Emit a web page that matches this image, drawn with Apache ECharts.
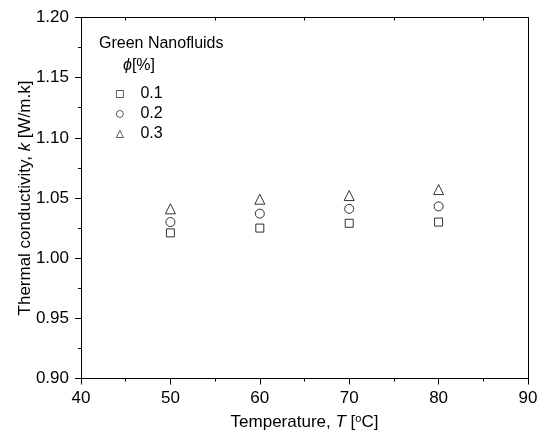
<!DOCTYPE html>
<html>
<head>
<meta charset="utf-8">
<script src="https://cdn.jsdelivr.net/npm/echarts@6/dist/echarts.min.js"></script>
<style>
  html, body { margin: 0; padding: 0; background: #fff; }
  #chart { width: 544px; height: 442px; }
</style>
</head>
<body>
<div id="chart"></div>
<script>
// Thermal conductivity of green nanofluids vs temperature
const temperatures = [50, 60, 70, 80];
const phi01 = [1.021, 1.025, 1.029, 1.030];
const phi02 = [1.030, 1.037, 1.041, 1.043];
const phi03 = [1.041, 1.049, 1.052, 1.057];
const seriesNames = ['0.1', '0.2', '0.3'];
const xTicks = { min: 40, max: 90, step: 10 };
const yTicks = { min: 0.90, max: 1.20, step: 0.05 };

const FONT = 'Liberation Sans, Arial, sans-serif';
const BLACK = '#000';

function pairs(xs, ys) { return xs.map((x, i) => [x, ys[i]]); }

const markerStyle = { color: '#fff', borderColor: BLACK, borderWidth: 1 };

const chart = echarts.init(document.getElementById('chart'), null, { renderer: 'canvas' });

chart.setOption({
  backgroundColor: '#fff',
  animation: false,
  textStyle: { fontFamily: FONT, color: BLACK },
  grid: { left: 81, right: 16, top: 17.5, bottom: 63.5, containLabel: false, outerBoundsMode: 'none' },
  xAxis: [
    {
      type: 'value', position: 'bottom',
      min: xTicks.min, max: xTicks.max, interval: xTicks.step,
      axisLine: { show: true, lineStyle: { color: BLACK, width: 1 } },
      axisTick: { show: true, length: 6, lineStyle: { color: BLACK } },
      minorTick: { show: true, splitNumber: 2, length: 3, lineStyle: { color: BLACK } },
      splitLine: { show: false },
      axisLabel: { fontSize: 17, color: BLACK, fontFamily: FONT, margin: 11 },
      name: '{a|Temperature, }{i|T}{a| [}{s|o}{a|C]}',
      nameLocation: 'middle', nameGap: 35,
      nameTextStyle: {
        fontSize: 17, color: BLACK, fontFamily: FONT,
        rich: {
          a: { fontSize: 17, fontFamily: FONT, color: BLACK },
          i: { fontSize: 17, fontFamily: FONT, color: BLACK, fontStyle: 'italic' },
          s: { fontSize: 11, fontFamily: FONT, color: BLACK, padding: [0, 0, 7, 0] }
        }
      }
    },
    {
      type: 'value', position: 'top',
      min: xTicks.min, max: xTicks.max, interval: xTicks.step,
      axisLine: { show: true, onZero: false, lineStyle: { color: BLACK, width: 1 } },
      axisTick: { show: false, inside: true },
      minorTick: { show: true, splitNumber: 2, length: 3, lineStyle: { color: BLACK } },
      axisLabel: { show: false },
      splitLine: { show: false }
    }
  ],
  yAxis: [
    {
      type: 'value', position: 'left',
      min: yTicks.min, max: yTicks.max, interval: yTicks.step,
      axisLine: { show: true, lineStyle: { color: BLACK, width: 1 } },
      axisTick: { show: true, length: 6, lineStyle: { color: BLACK } },
      minorTick: { show: true, splitNumber: 2, length: 3, lineStyle: { color: BLACK } },
      splitLine: { show: false },
      axisLabel: { fontSize: 17, color: BLACK, fontFamily: FONT, margin: 12, formatter: v => v.toFixed(2) },
      name: '{a|Thermal conductivity, }{i|k}{a| [W/m.k]}',
      nameLocation: 'middle', nameGap: 47, nameRotate: 90, nameMoveOverlap: false,
      nameTextStyle: {
        fontSize: 17, color: BLACK, fontFamily: FONT,
        rich: {
          a: { fontSize: 17, fontFamily: FONT, color: BLACK },
          i: { fontSize: 17, fontFamily: FONT, color: BLACK, fontStyle: 'italic' }
        }
      }
    },
    {
      type: 'value', position: 'right',
      min: yTicks.min, max: yTicks.max, interval: yTicks.step,
      axisLine: { show: true, onZero: false, lineStyle: { color: BLACK, width: 1 } },
      axisTick: { show: false },
      axisLabel: { show: false },
      splitLine: { show: false }
    }
  ],
  legend: {
    orient: 'vertical',
    left: 111, top: 81,
    itemWidth: 7, itemHeight: 7, itemGap: 4,
    data: seriesNames,
    itemStyle: { color: '#fff', borderColor: BLACK, borderWidth: 0.8 },
    textStyle: { fontSize: 16, color: BLACK, fontFamily: FONT, padding: [0, 0, 0, 12] }
  },
  graphic: [
    {
      type: 'text', left: 99, top: 36,
      style: { text: 'Green Nanofluids', font: '16px ' + FONT, fill: BLACK }
    },
    {
      type: 'text', left: 123, top: 58,
      style: {
        text: '{i|ϕ}{a|[%]}',
        rich: {
          i: { font: 'italic 16px ' + FONT, fill: BLACK },
          a: { font: '16px ' + FONT, fill: BLACK }
        }
      }
    }
  ],
  series: [
    { name: seriesNames[0], type: 'scatter', symbol: 'rect', symbolSize: 8,
      itemStyle: markerStyle, data: pairs(temperatures, phi01) },
    { name: seriesNames[1], type: 'scatter', symbol: 'circle', symbolSize: 9,
      itemStyle: markerStyle, data: pairs(temperatures, phi02) },
    { name: seriesNames[2], type: 'scatter', symbol: 'triangle', symbolSize: 10,
      itemStyle: markerStyle, data: pairs(temperatures, phi03) }
  ]
});
</script>
</body>
</html>
